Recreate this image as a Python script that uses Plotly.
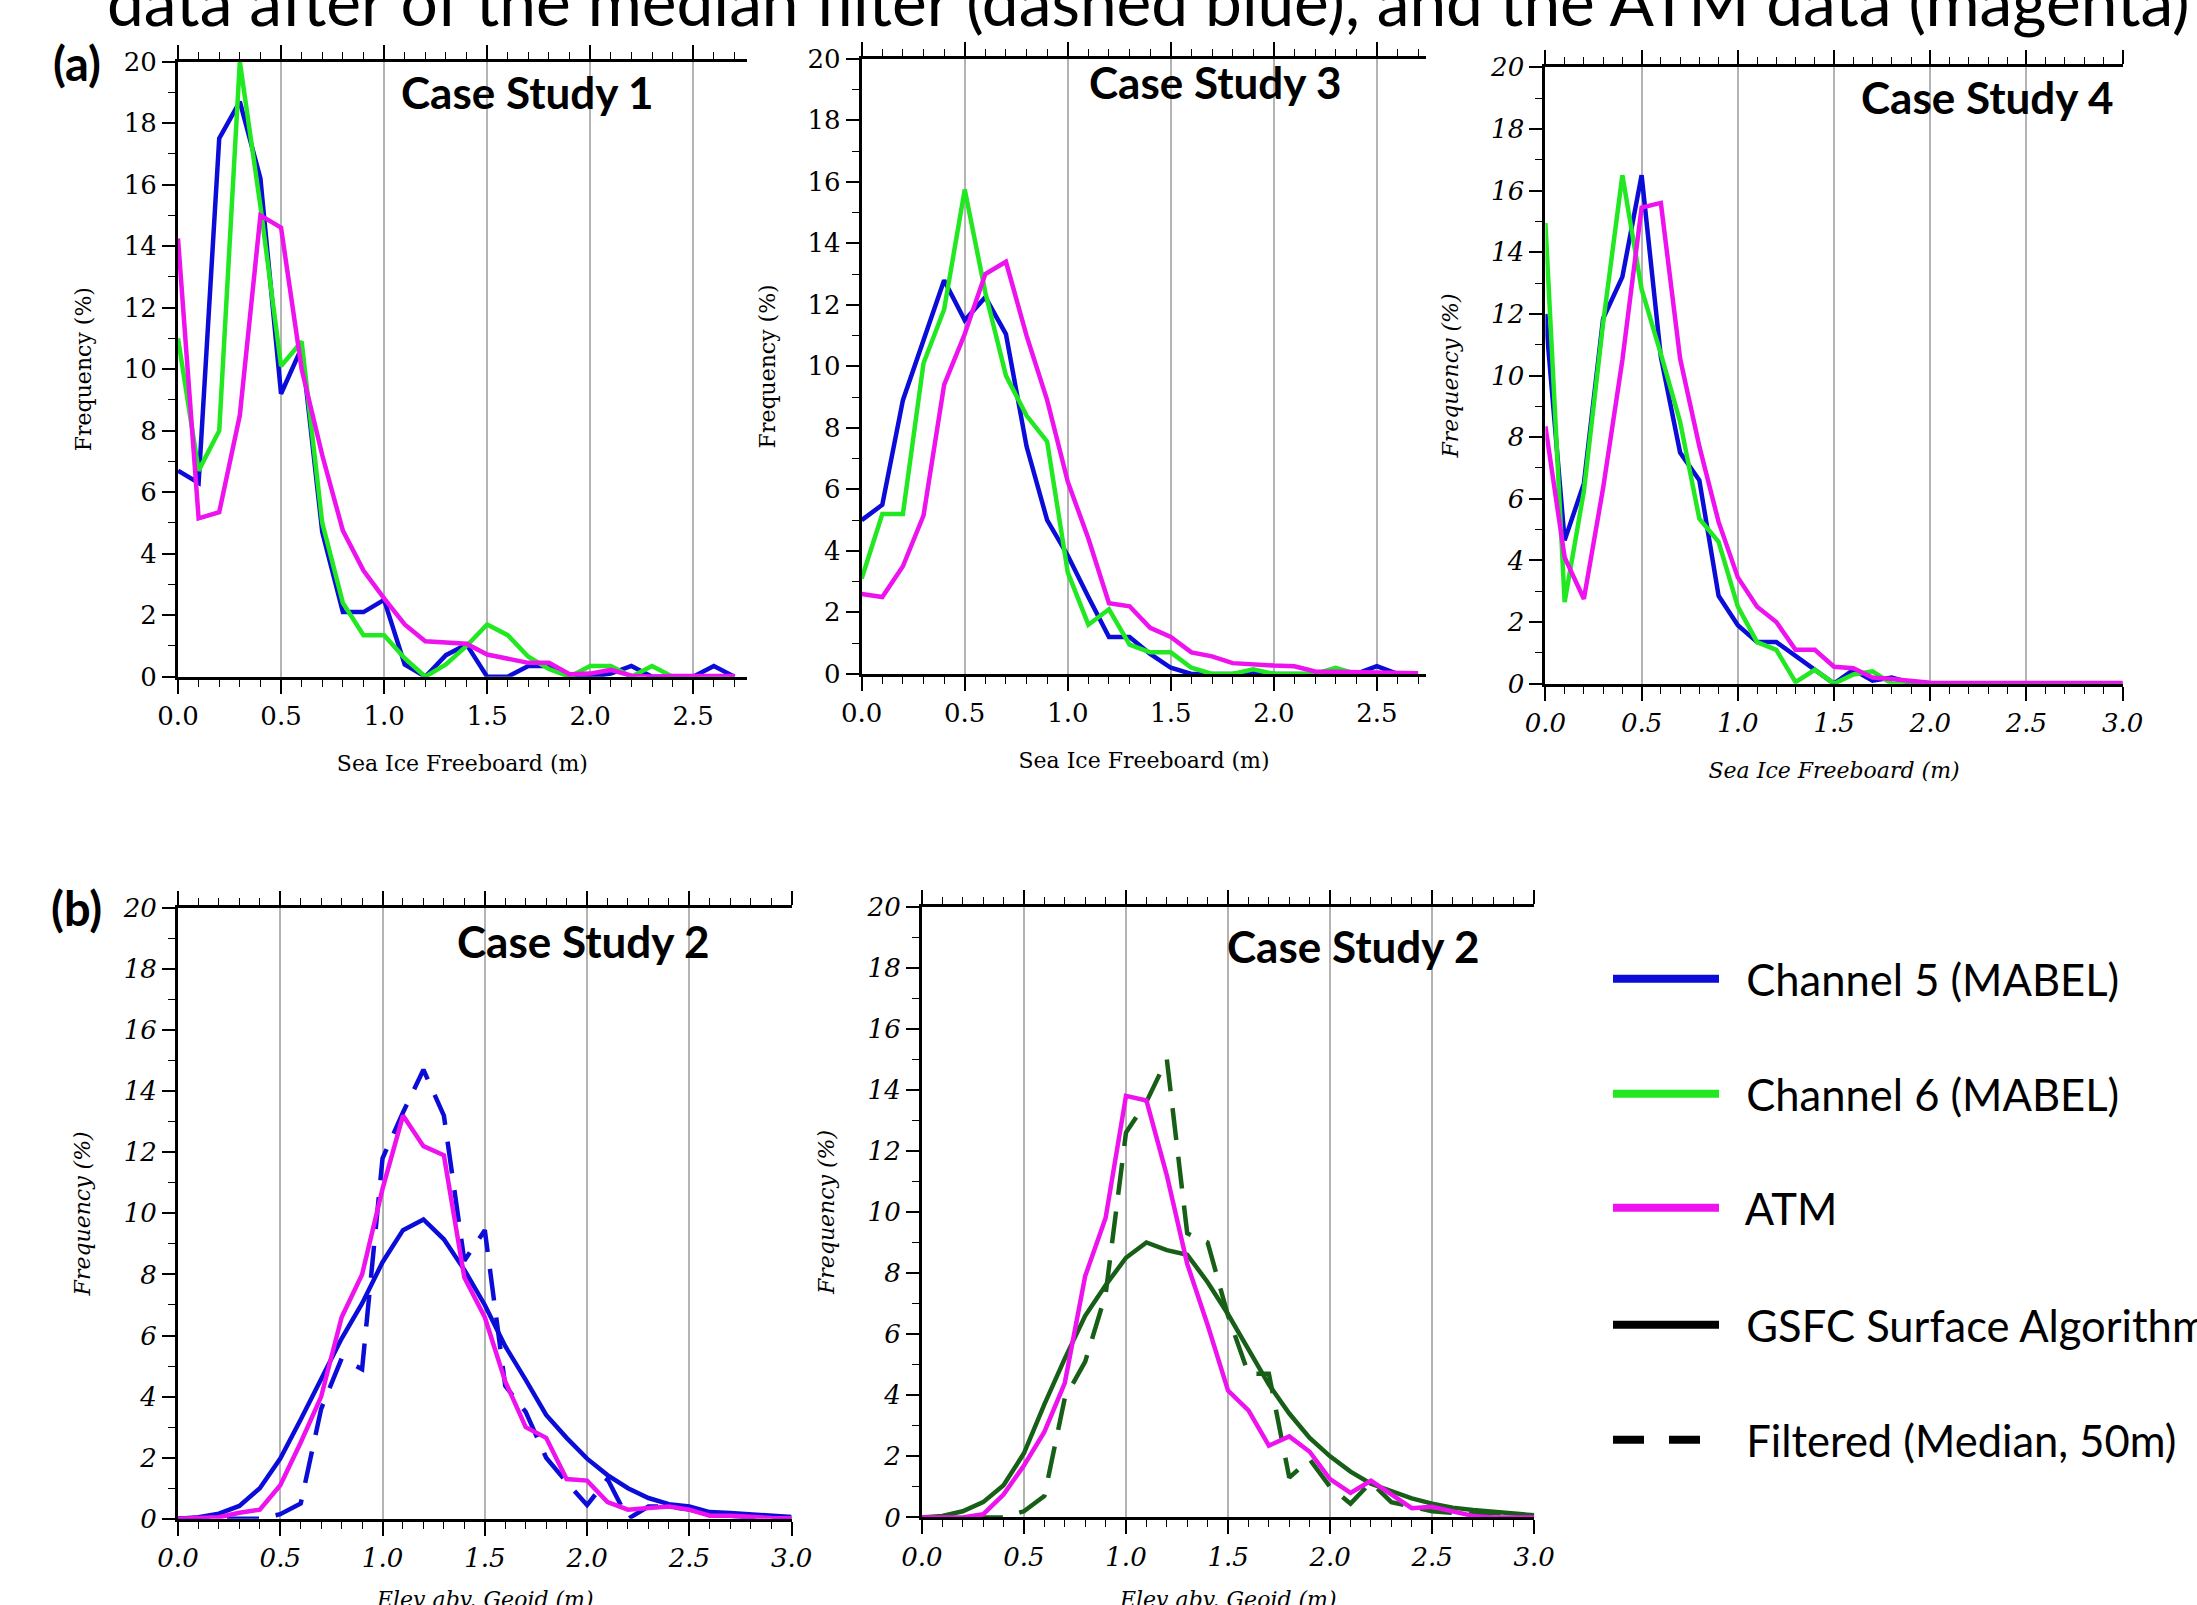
import plotly.graph_objects as go

# ---------------- data ----------------
X_CS1 = [0.0, 0.1, 0.2, 0.3, 0.4, 0.5, 0.6, 0.7, 0.8, 0.9, 1.0, 1.1, 1.2, 1.3,
         1.4, 1.5, 1.6, 1.7, 1.8, 1.9, 2.0, 2.1, 2.2, 2.3, 2.4, 2.5, 2.6, 2.7]
CS1_CH5 = [6.7, 6.3, 17.5, 18.7, 16.2, 9.2, 10.7, 4.7, 2.1, 2.1, 2.5, 0.4, 0.0, 0.7,
           1.05, 0.0, 0.0, 0.35, 0.35, 0.0, 0.0, 0.1, 0.35, 0.0, 0.0, 0.0, 0.35, 0.0]
CS1_CH6 = [11.0, 6.7, 8.0, 20.0, 15.3, 10.1, 10.9, 5.0, 2.4, 1.35, 1.35, 0.6, 0.0, 0.4,
           1.0, 1.7, 1.35, 0.65, 0.25, 0.0, 0.35, 0.35, 0.0, 0.35, 0.0, 0.0, 0.0, 0.0]
CS1_ATM = [14.25, 5.15, 5.35, 8.5, 15.0, 14.6, 10.0, 7.2, 4.75, 3.45, 2.55, 1.7, 1.15, 1.1,
           1.07, 0.72, 0.6, 0.45, 0.45, 0.08, 0.1, 0.22, 0.03, 0.0, 0.02, 0.02, 0.02, 0.02]

X_CS3 = [0.0, 0.1, 0.2, 0.3, 0.4, 0.5, 0.6, 0.7, 0.8, 0.9, 1.0, 1.1, 1.2, 1.3,
         1.4, 1.5, 1.6, 1.7, 1.8, 1.9, 2.0, 2.1, 2.2, 2.3, 2.4, 2.5, 2.6, 2.7]
CS3_CH5 = [5.0, 5.5, 8.9, 10.8, 12.8, 11.5, 12.25, 11.05, 7.4, 5.0, 3.85, 2.5, 1.2, 1.2,
           0.65, 0.2, 0.0, 0.0, 0.0, 0.05, 0.0, 0.0, 0.0, 0.0, 0.0, 0.25, 0.0, 0.0]
CS3_CH6 = [3.1, 5.2, 5.2, 10.1, 11.85, 15.75, 12.4, 9.7, 8.4, 7.55, 3.3, 1.6, 2.1, 0.95,
           0.7, 0.7, 0.2, 0.0, 0.0, 0.15, 0.0, 0.0, 0.0, 0.2, 0.0, 0.0, 0.0, 0.0]
CS3_ATM = [2.6, 2.5, 3.5, 5.15, 9.4, 11.05, 13.0, 13.4, 11.0, 8.9, 6.25, 4.4, 2.3, 2.2,
           1.5, 1.2, 0.7, 0.57, 0.35, 0.3, 0.27, 0.25, 0.08, 0.07, 0.05, 0.03, 0.02, 0.02]

X_30 = [0.0, 0.1, 0.2, 0.3, 0.4, 0.5, 0.6, 0.7, 0.8, 0.9, 1.0, 1.1, 1.2, 1.3, 1.4, 1.5,
        1.6, 1.7, 1.8, 1.9, 2.0, 2.1, 2.2, 2.3, 2.4, 2.5, 2.6, 2.7, 2.8, 2.9, 3.0]
CS4_CH5 = [12.0, 4.65, 6.5, 11.85, 13.2, 16.5, 10.6, 7.5, 6.6, 2.85, 1.9, 1.35, 1.35, 0.9,
           0.45, 0.0, 0.45, 0.1, 0.2, 0.02, 0.0, 0.0, 0.0, 0.0, 0.0, 0.0, 0.0, 0.0, 0.0, 0.0, 0.0]
CS4_CH6 = [14.95, 2.65, 6.25, 11.7, 16.5, 12.8, 10.7, 8.5, 5.35, 4.6, 2.5, 1.35, 1.1, 0.05,
           0.45, 0.0, 0.3, 0.4, 0.0, 0.0, 0.0, 0.0, 0.0, 0.0, 0.0, 0.0, 0.0, 0.0, 0.0, 0.0, 0.0]
CS4_ATM = [8.35, 4.1, 2.75, 6.35, 10.5, 15.45, 15.6, 10.55, 7.7, 5.25, 3.45, 2.5, 2.0, 1.1,
           1.1, 0.55, 0.5, 0.2, 0.15, 0.1, 0.03, 0.02, 0.02, 0.02, 0.05, 0.02, 0.02, 0.02,
           0.02, 0.02, 0.02]

CS2A_GSFC = [0.0, 0.05, 0.17, 0.42, 1.0, 1.97, 3.25, 4.6, 5.9, 7.05, 8.4, 9.45, 9.8, 9.15,
             8.15, 7.0, 5.65, 4.55, 3.4, 2.65, 1.97, 1.43, 1.0, 0.68, 0.48, 0.4, 0.22, 0.19,
             0.14, 0.1, 0.06]
CS2A_FILT = [0.0, 0.0, 0.0, 0.0, 0.0, 0.15, 0.5, 3.6, 5.25, 4.9, 11.8, 13.3, 14.7, 13.2,
             8.45, 9.45, 4.35, 3.5, 2.0, 1.2, 0.45, 1.3, 0.0, 0.4, 0.4, 0.3, 0.15, 0.1,
             0.05, 0.0, 0.0]
CS2A_ATM = [0.0, 0.02, 0.05, 0.2, 0.3, 1.1, 2.5, 4.0, 6.6, 8.0, 10.8, 13.2, 12.2, 11.9,
            7.9, 6.6, 4.5, 3.0, 2.65, 1.3, 1.25, 0.55, 0.3, 0.35, 0.4, 0.3, 0.1, 0.1,
            0.05, 0.03, 0.02]

CS2B_GSFC = [0.0, 0.05, 0.2, 0.5, 1.05, 2.1, 3.7, 5.2, 6.6, 7.6, 8.5, 9.0, 8.75, 8.6,
             7.7, 6.65, 5.5, 4.35, 3.4, 2.6, 2.0, 1.5, 1.1, 0.85, 0.62, 0.45, 0.32, 0.24,
             0.18, 0.13, 0.07]
CS2B_FILT = [0.0, 0.0, 0.0, 0.0, 0.0, 0.2, 0.7, 3.9, 5.1, 7.3, 12.6, 13.6, 15.0, 9.3,
             9.0, 6.6, 4.7, 4.7, 1.3, 1.9, 1.0, 0.45, 1.15, 0.5, 0.35, 0.2, 0.15, 0.1,
             0.15, 0.1, 0.05]
CS2B_ATM = [0.0, 0.0, 0.0, 0.1, 0.75, 1.7, 2.8, 4.4, 7.9, 9.8, 13.8, 13.65, 11.2, 8.3,
            6.3, 4.15, 3.5, 2.35, 2.65, 2.15, 1.25, 0.8, 1.2, 0.75, 0.3, 0.35, 0.2, 0.05,
            0.0, 0.0, 0.0]

PANEL_TITLES = ["Case Study 1", "Case Study 3", "Case Study 4", "Case Study 2", "Case Study 2"]
LEGEND_NAMES = ["Channel 5 (MABEL)", "Channel 6 (MABEL)", "ATM",
                "GSFC Surface Algorithm", "Filtered (Median, 50m)"]
TOP_TEXT = "data after of the median filter (dashed blue), and the ATM data (magenta)"

# ---------------- styles ----------------
W, H = 2197, 1605
BLUE = "#0c0cd8"
GREEN = "#22e822"
MAGENTA = "#ee12ee"
DKGREEN = "#175f17"
LW = 4.5
DASH = "32px,17px"
SANS = "Lato, 'Open Sans', sans-serif"
SERIF = "DejaVu Serif, serif"


def px(x):
    return x / W


def py(y):
    return 1 - y / H


panels = [
    dict(l=178, r=746.8, t=61.6, b=676.7, xr=2.76, italic=False, xt="Sea Ice Freeboard (m)", axt=True),
    dict(l=861.7, r=1426.3, t=58.8, b=673.9, xr=2.74, italic=False, xt="Sea Ice Freeboard (m)", axt=True),
    dict(l=1545.4, r=2122.7, t=67.3, b=683.7, xr=3.0, italic=True, xt="Sea Ice Freeboard (m)", axt=True),
    dict(l=178, r=791.6, t=907.9, b=1518.8, xr=3.0, italic=True, xt="Elev abv. Geoid (m)", axt=False),
    dict(l=921.9, r=1534.2, t=906.5, b=1517.4, xr=3.0, italic=True, xt="Elev abv. Geoid (m)", axt=False),
]

fig = go.Figure()


def add_line(i, x, y, color, dash="solid"):
    sfx = "" if i == 0 else str(i + 1)
    fig.add_trace(go.Scatter(x=x, y=y, mode="lines",
                             line=dict(color=color, width=LW, dash=dash),
                             xaxis="x" + sfx, yaxis="y" + sfx,
                             showlegend=False, hoverinfo="skip"))


add_line(0, X_CS1, CS1_CH5, BLUE)
add_line(0, X_CS1, CS1_CH6, GREEN)
add_line(0, X_CS1, CS1_ATM, MAGENTA)
add_line(1, X_CS3, CS3_CH5, BLUE)
add_line(1, X_CS3, CS3_CH6, GREEN)
add_line(1, X_CS3, CS3_ATM, MAGENTA)
add_line(2, X_30, CS4_CH5, BLUE)
add_line(2, X_30, CS4_CH6, GREEN)
add_line(2, X_30, CS4_ATM, MAGENTA)
add_line(3, X_30, CS2A_GSFC, BLUE)
add_line(3, X_30, CS2A_FILT, BLUE, DASH)
add_line(3, X_30, CS2A_ATM, MAGENTA)
add_line(4, X_30, CS2B_GSFC, DKGREEN)
add_line(4, X_30, CS2B_FILT, DKGREEN, DASH)
add_line(4, X_30, CS2B_ATM, MAGENTA)

# legend entries, each in its own legend box so rows are spaced like the original
leg_colors = [BLUE, GREEN, MAGENTA, "black", "black"]
leg_dash = ["solid", "solid", "solid", "solid", "31px,25px"]
leg_rows = [979, 1094, 1208, 1325, 1440]
LEG_FONT = dict(family=SANS, size=43.5, color="black")
for k, name in enumerate(LEGEND_NAMES):
    lid = "legend" if k == 0 else "legend" + str(k + 1)
    fig.add_trace(go.Scatter(x=[None], y=[None], mode="lines", name="\u00a0\u00a0" + name,
                             line=dict(color=leg_colors[k], width=8, dash=leg_dash[k]),
                             legend=lid, showlegend=True, hoverinfo="skip"))

layout = dict(width=W, height=H, margin=dict(l=0, r=0, t=0, b=0, autoexpand=False),
              paper_bgcolor="white", plot_bgcolor="white", showlegend=True)

for k in range(5):
    lid = "legend" if k == 0 else "legend" + str(k + 1)
    layout[lid] = dict(x=px(1608), xanchor="left", y=py(leg_rows[k]), yanchor="middle",
                       bgcolor="rgba(0,0,0,0)", borderwidth=0, font=LEG_FONT,
                       itemwidth=106)

for i, p in enumerate(panels):
    sfx = "" if i == 0 else str(i + 1)
    style = "italic" if p["italic"] else "normal"
    tfont = dict(family=SERIF, size=26, color="black", style=style)
    afont = dict(family=SERIF, size=22, color="black", style=style)
    xtitle = dict(text=p["xt"], font=afont, standoff=26) if p["axt"] else dict(text="")
    layout["xaxis" + sfx] = dict(
        domain=[px(p["l"]), px(p["r"])], range=[0, p["xr"]], anchor="y" + sfx,
        tick0=0, dtick=0.5, tickformat=".1f", ticks="outside", ticklen=14, tickwidth=1.5,
        tickcolor="black", showline=True, linewidth=3, linecolor="black", mirror="ticks",
        showgrid=True, gridcolor="#b4b4b4", gridwidth=1.5, zeroline=False,
        minor=dict(dtick=0.1, ticks="outside", ticklen=7, tickwidth=1.2, tickcolor="black",
                   showgrid=False),
        tickfont=tfont, title=xtitle, fixedrange=True)
    layout["yaxis" + sfx] = dict(
        domain=[py(p["b"]), py(p["t"])], range=[0, 20], anchor="x" + sfx,
        tick0=0, dtick=2, ticks="outside", ticklen=13, tickwidth=1.5, tickcolor="black",
        showline=True, linewidth=3, linecolor="black", mirror=False,
        showgrid=False, zeroline=False,
        minor=dict(dtick=1, ticks="outside", ticklen=7, tickwidth=1.2, tickcolor="black"),
        tickfont=tfont, title=dict(text="Frequency (%)", font=afont, standoff=26),
        fixedrange=True)

fig.update_layout(**layout)

# bottom-row x titles: the original crops them at the page edge
for p in panels:
    if not p["axt"]:
        fig.add_annotation(text=p["xt"], x=px((p["l"] + p["r"]) / 2), y=py(1599),
                           xref="paper", yref="paper", xanchor="center", yanchor="middle",
                           showarrow=False,
                           font=dict(family=SERIF, size=22, color="black", style="italic"))

CS_FONT = dict(family=SANS, size=44, color="black", weight="bold")
cs_pos = [(527, 92), (1215, 82), (1987, 97), (584, 941), (1353, 946)]
for t, (cx, cy) in zip(PANEL_TITLES, cs_pos):
    fig.add_annotation(text=t, x=px(cx), y=py(cy), xref="paper", yref="paper",
                       xanchor="center", yanchor="middle", showarrow=False, font=CS_FONT)

LBL_FONT = dict(family=SANS, size=47, color="black", weight="bold")
fig.add_annotation(text="(a)", x=px(77), y=py(63), xref="paper", yref="paper",
                   xanchor="center", yanchor="middle", showarrow=False, font=LBL_FONT)
fig.add_annotation(text="(b)", x=px(76), y=py(908), xref="paper", yref="paper",
                   xanchor="center", yanchor="middle", showarrow=False, font=LBL_FONT)

fig.add_annotation(text=TOP_TEXT, x=px(105), y=py(0), xref="paper", yref="paper",
                   xanchor="left", yanchor="middle", showarrow=False,
                   font=dict(family=SANS, size=65.8, color="black"))

fig.write_html("out.html", config={"displayModeBar": False},
               post_script="document.body.style.margin='0';")
